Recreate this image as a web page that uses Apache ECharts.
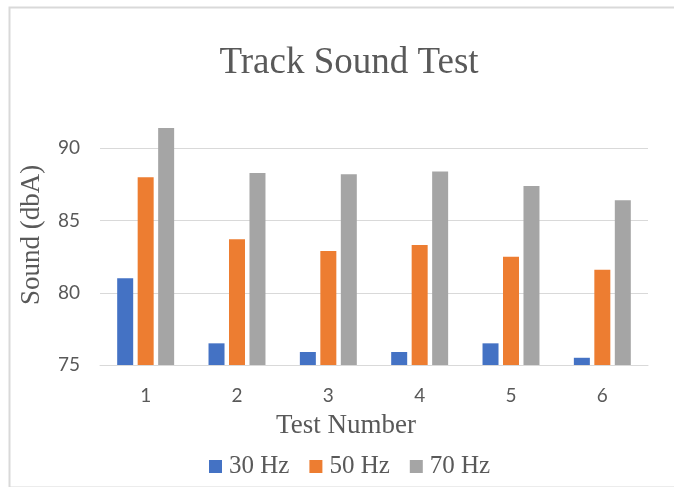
<!DOCTYPE html>
<html>
<head>
<meta charset="utf-8">
<script src="https://cdn.jsdelivr.net/npm/echarts@6/dist/echarts.min.js"></script>
<style>
html,body{margin:0;padding:0;background:#fff;}
#chart{width:674px;height:487px;}
</style>
</head>
<body>
<div id="chart"></div>
<script>
const categories = ['1', '2', '3', '4', '5', '6'];
const hz30 = [81.0, 76.5, 75.9, 75.9, 76.5, 75.5];
const hz50 = [88.0, 83.7, 82.9, 83.3, 82.5, 81.6];
const hz70 = [91.4, 88.3, 88.2, 88.4, 87.4, 86.4];
const seriesNames = ['30 Hz', '50 Hz', '70 Hz'];
const titleText = 'Track Sound Test';
const xTitle = 'Test Number';
const yTitle = 'Sound (dbA)';

const serif = '"Liberation Serif", "Times New Roman", serif';
const sans = 'Lato, "Liberation Sans", sans-serif';
const textColor = '#595959';

const chart = echarts.init(document.getElementById('chart'), null, {renderer: 'canvas'});
const mkSeries = (name, data, color) => ({
  name: name,
  type: 'bar',
  data: data,
  barWidth: 16,
  barGap: '28%',
  itemStyle: {color: color},
  emphasis: {disabled: true}
});
chart.setOption({
  animation: false,
  backgroundColor: '#fff',
  grid: {left: 100, right: 26, top: 105, bottom: 122},
  graphic: [
    {type: 'rect', left: 7, top: 5, shape: {width: 700, height: 480},
     style: {fill: 'none', stroke: '#d9d9d9', lineWidth: 2}, silent: true, z: -10},
    {type: 'text', x: 349, y: 63,
     style: {text: titleText, font: '37px ' + serif, fill: textColor, textAlign: 'center', textVerticalAlign: 'middle'}},
    {type: 'text', x: 346, y: 426,
     style: {text: xTitle, font: '27px ' + serif, fill: textColor, textAlign: 'center', textVerticalAlign: 'middle'}},
    {type: 'text', x: 32, y: 235, rotation: Math.PI / 2,
     style: {text: yTitle, font: '27px ' + serif, fill: textColor, textAlign: 'center', textVerticalAlign: 'middle'}}
  ],
  legend: {
    data: seriesNames,
    left: 204,
    top: 449,
    icon: 'rect',
    itemWidth: 13,
    itemHeight: 13,
    itemGap: 20,
    textStyle: {fontFamily: serif, fontSize: 25, color: textColor, padding: [0, 0, 0, 2]}
  },
  xAxis: {
    type: 'category',
    data: categories,
    axisLine: {lineStyle: {color: '#d9d9d9', width: 1}},
    axisTick: {show: false},
    axisLabel: {fontFamily: sans, fontSize: 19, color: textColor, margin: 21}
  },
  yAxis: {
    type: 'value',
    min: 75,
    max: 93,
    interval: 5,
    axisLine: {show: false},
    axisTick: {show: false},
    axisLabel: {fontFamily: sans, fontSize: 19, color: textColor, margin: 20, showMaxLabel: false},
    splitLine: {showMaxLine: false, lineStyle: {color: '#d9d9d9', width: 1}}
  },
  series: [
    mkSeries(seriesNames[0], hz30, '#4472C4'),
    mkSeries(seriesNames[1], hz50, '#ED7D31'),
    mkSeries(seriesNames[2], hz70, '#A5A5A5')
  ]
});
</script>
</body>
</html>
